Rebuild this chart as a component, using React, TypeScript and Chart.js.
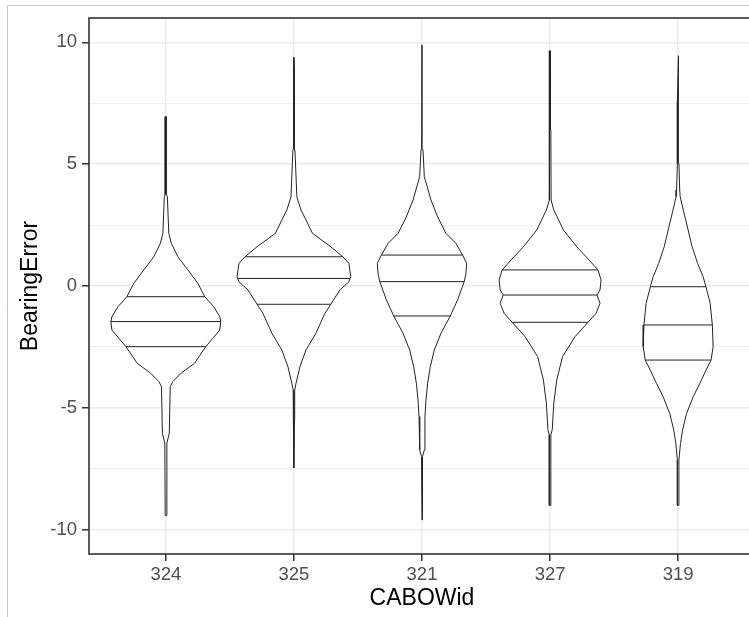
import React, { useEffect, useRef } from 'react';
import { Chart, registerables } from 'chart.js';

Chart.register(...registerables);

// Categories (x axis) and y-axis ticks
const categories = ['324', '325', '321', '327', '319'];
const yTicks = [-10, -7.5, -5, -2.5, 0, 2.5, 5, 7.5, 10];

// Violin outlines: y values and half-width (fraction of a category slot)
const v324Y = [-9.42, -6.45, -6.04, -4.13, -3.92, -3.58, -3.17, -2.49, -2.15, -1.81, -1.46, -1.26, -0.85, -0.44, 0.11, 0.66, 1.2, 1.75, 2.16, 3.66, 3.75, 6.95];
const v324W = [0.005, 0.008, 0.027, 0.034, 0.055, 0.119, 0.224, 0.312, 0.366, 0.421, 0.429, 0.421, 0.374, 0.304, 0.25, 0.172, 0.094, 0.043, 0.023, 0.012, 0.005, 0.005];

const v325Y = [-7.47, -5.5, -4.27, -4.0, -3.31, -2.63, -1.94, -1.12, -0.75, -0.16, 0.17, 0.38, 0.93, 1.2, 1.61, 2.16, 2.71, 3.12, 3.66, 5.58, 5.65, 8.83, 9.38];
const v325W = [0, 0.004, 0.006, 0.016, 0.047, 0.094, 0.172, 0.242, 0.288, 0.359, 0.429, 0.444, 0.429, 0.382, 0.288, 0.145, 0.094, 0.055, 0.023, 0.008, 0.004, 0.004, 0];

const v321Y = [-9.6, -7.0, -6.73, -5.36, -4.68, -3.99, -3.31, -2.63, -1.94, -1.23, -0.57, 0.18, 0.52, 0.93, 1.27, 1.75, 2.16, 2.84, 3.53, 4.49, 5.58, 5.65, 9.9];
const v321W = [0, 0.004, 0.018, 0.023, 0.031, 0.044, 0.065, 0.096, 0.148, 0.221, 0.278, 0.33, 0.343, 0.349, 0.317, 0.265, 0.187, 0.122, 0.07, 0.018, 0.008, 0.002, 0];

const v327Y = [-9.0, -7.82, -6.11, -5.9, -4.81, -3.86, -2.9, -2.08, -1.49, -1.12, -0.71, -0.37, -0.16, 0.25, 0.66, 1.07, 1.61, 2.3, 3.12, 3.53, 6.4, 9.0, 9.65];
const v327W = [0.006, 0.006, 0.006, 0.017, 0.029, 0.052, 0.097, 0.195, 0.296, 0.359, 0.39, 0.366, 0.39, 0.398, 0.374, 0.304, 0.208, 0.104, 0.029, 0.008, 0.006, 0.002, 0.005];

const v319Y = [-9.0, -7.14, -6.47, -5.92, -5.24, -4.55, -4.0, -3.45, -3.04, -2.49, -1.6, -0.71, -0.03, 0.38, 0.93, 1.61, 2.3, 3.03, 3.67, 3.94, 5.03, 7.6, 9.45];
const v319W = [0.006, 0.006, 0.018, 0.034, 0.065, 0.117, 0.169, 0.218, 0.257, 0.273, 0.267, 0.25, 0.217, 0.195, 0.152, 0.109, 0.078, 0.044, 0.016, 0.012, 0.006, 0.006, 0];

// Quantiles drawn inside each violin (25%, 50%, 75%)
const q25 = [-2.49, -0.75, -1.23, -1.49, -3.04];
const q50 = [-1.46, 0.31, 0.18, -0.37, -1.6];
const q75 = [-0.44, 1.2, 1.27, 0.66, -0.03];

const violinY = [v324Y, v325Y, v321Y, v327Y, v319Y];
const violinW = [v324W, v325W, v321W, v327W, v319W];

const LINE = '#222222';
const FONT = '"Liberation Sans", Arial, sans-serif';

function halfWidthAt(ys: number[], ws: number[], y: number): number {
  for (let k = 0; k < ys.length - 1; k++) {
    if (y >= ys[k] && y <= ys[k + 1]) {
      const t = (y - ys[k]) / (ys[k + 1] - ys[k]);
      return ws[k] + t * (ws[k + 1] - ws[k]);
    }
  }
  return 0;
}

function buildDatasets() {
  const ds: any[] = [];
  categories.forEach((_, i) => {
    const ys = violinY[i];
    const ws = violinW[i];
    const right = ys.map((y, k) => ({ x: i + ws[k], y }));
    const left = ys.map((y, k) => ({ x: i - ws[k], y })).reverse();
    ds.push({
      data: [...right, ...left, right[0]],
      borderColor: LINE,
      borderWidth: 1,
      backgroundColor: '#ffffff',
      fill: 'shape',
      pointRadius: 0,
      tension: 0,
      order: 2,
    });
    [q25[i], q50[i], q75[i]].forEach((q) => {
      const w = halfWidthAt(ys, ws, q);
      ds.push({
        data: [{ x: i - w, y: q }, { x: i + w, y: q }],
        borderColor: LINE,
        borderWidth: 1,
        fill: false,
        pointRadius: 0,
        order: 1,
      });
    });
  });
  return ds;
}

const framePlugin = {
  id: 'frame',
  beforeDraw(chart: any) {
    const ctx = chart.ctx;
    ctx.save();
    ctx.strokeStyle = '#c4c4c4';
    ctx.lineWidth = 1;
    ctx.beginPath();
    ctx.moveTo(7.5, chart.height);
    ctx.lineTo(7.5, 5.5);
    ctx.lineTo(chart.width, 5.5);
    ctx.stroke();
    ctx.restore();
  },
  afterDraw(chart: any) {
    const { left, top, right, bottom } = chart.chartArea;
    const ctx = chart.ctx;
    ctx.save();
    ctx.strokeStyle = '#333333';
    ctx.lineWidth = 1.6;
    ctx.strokeRect(left, top, right - left, bottom - top);
    ctx.restore();
  },
};

export default function App() {
  const ref = useRef<HTMLCanvasElement>(null);
  useEffect(() => {
    document.body.style.margin = '0';
    if (!ref.current) return;
    const chart = new Chart(ref.current, {
      type: 'line',
      data: { datasets: buildDatasets() },
      plugins: [framePlugin],
      options: {
        responsive: false,
        animation: false,
        layout: { padding: { top: 18, right: 15, left: 0, bottom: 0 } },
        plugins: { legend: { display: false }, tooltip: { enabled: false } },
        scales: {
          x: {
            type: 'linear',
            min: -0.6,
            max: 4.6,
            afterBuildTicks: (s: any) => {
              s.ticks = categories.map((_, i) => ({ value: i }));
            },
            afterFit: (s: any) => {
              s.height = 63;
            },
            ticks: {
              autoSkip: false,
              maxRotation: 0,
              padding: 3,
              color: '#4d4d4d',
              font: { family: FONT, size: 18.5 },
              callback: (v: any) => categories[Math.round(Number(v))] ?? '',
            },
            grid: {
              color: '#ebebeb',
              lineWidth: 1.5,
              tickColor: '#333333',
              tickLength: 7,
              tickWidth: 1.5,
            },
            border: { display: false },
            title: {
              display: true,
              text: 'CABOWid',
              color: '#000000',
              font: { family: FONT, size: 23 },
              padding: { top: 0, bottom: 4.2 },
            },
          },
          y: {
            type: 'linear',
            min: -11,
            max: 11,
            afterBuildTicks: (s: any) => {
              s.ticks = yTicks.map((v) => ({ value: v }));
            },
            afterFit: (s: any) => {
              s.width = 89;
            },
            ticks: {
              autoSkip: false,
              padding: 5,
              color: '#4d4d4d',
              font: { family: FONT, size: 18.5 },
              callback: (v: any) => (Number(v) % 5 === 0 ? String(v) : ''),
            },
            grid: {
              color: '#ebebeb',
              lineWidth: (c: any) => (c.tick && c.tick.value % 5 === 0 ? 1.5 : 0.8),
              tickColor: (c: any) => (c.tick && c.tick.value % 5 === 0 ? '#333333' : 'rgba(0,0,0,0)'),
              tickLength: 7,
              tickWidth: 1.5,
            },
            border: { display: false },
            title: {
              display: true,
              text: 'BearingError',
              color: '#000000',
              font: { family: FONT, size: 23 },
              padding: { top: 17.2, bottom: 0 },
            },
          },
        },
      } as any,
    });
    return () => chart.destroy();
  }, []);
  return (
    <div style={{ width: 749, height: 617, overflow: 'hidden', position: 'relative', background: '#ffffff' }}>
      <canvas ref={ref} width={770} height={617} style={{ display: 'block' }} />
    </div>
  );
}
